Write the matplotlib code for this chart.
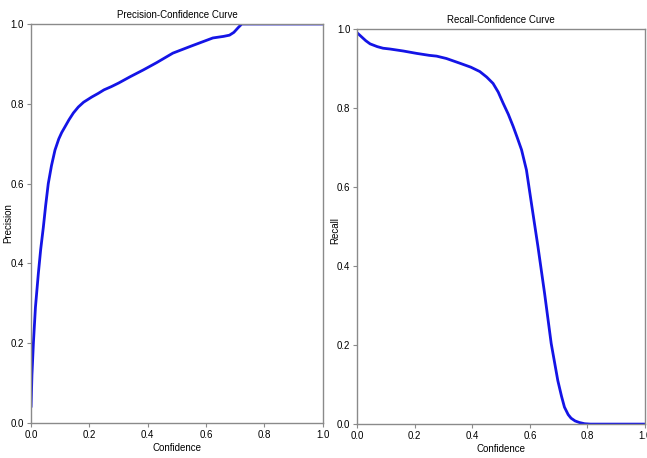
import matplotlib
matplotlib.use("Agg")
import matplotlib.pyplot as plt

prec_conf = [0.0, 0.003, 0.008, 0.015, 0.025, 0.033, 0.042, 0.05, 0.059, 0.07, 0.082,
             0.095, 0.105, 0.116, 0.13, 0.145, 0.162, 0.18, 0.208, 0.23, 0.25, 0.275,
             0.30, 0.34, 0.385, 0.43, 0.486, 0.55, 0.623, 0.66, 0.68, 0.695, 0.71,
             0.722, 0.75, 1.0]
precision = [0.04, 0.12, 0.2, 0.29, 0.375, 0.435, 0.49, 0.545, 0.60, 0.645, 0.684,
             0.712, 0.728, 0.742, 0.76, 0.777, 0.792, 0.804, 0.817, 0.826, 0.835, 0.843,
             0.852, 0.868, 0.885, 0.903, 0.927, 0.945, 0.965, 0.969, 0.972, 0.979, 0.991,
             1.0, 1.0, 1.0]

rec_conf = [0.0, 0.015, 0.03, 0.045, 0.07, 0.09, 0.114, 0.16, 0.206, 0.25, 0.276, 0.31,
            0.357, 0.395, 0.426, 0.45, 0.472, 0.49, 0.507, 0.525, 0.542, 0.556,
            0.571, 0.588, 0.605, 0.628, 0.651, 0.674, 0.697, 0.71, 0.72, 0.733, 0.743,
            0.757, 0.772, 0.79, 0.81, 1.0]
recall = [0.99, 0.98, 0.97, 0.962, 0.955, 0.951, 0.949, 0.944, 0.938, 0.933, 0.931, 0.925,
          0.913, 0.903, 0.892, 0.878, 0.862, 0.84, 0.812, 0.784, 0.753, 0.725,
          0.694, 0.643, 0.56, 0.449, 0.331, 0.204, 0.11, 0.07, 0.043, 0.024, 0.015,
          0.008, 0.004, 0.001, 0.0, 0.0]

plt.rcParams['font.family'] = ['Liberation Sans', 'DejaVu Sans']

fig = plt.figure(figsize=(6.47, 4.58), dpi=100)
ax1 = fig.add_axes([0.048, 0.0764, 0.451, 0.8712])
ax2 = fig.add_axes([0.552, 0.074, 0.445, 0.863])

line_color = '#1414e6'
spine_color = '#8a8a8a'

for ax, x, y, title, ylab in [
    (ax1, prec_conf, precision, 'Precision-Confidence Curve', 'Precision'),
    (ax2, rec_conf, recall, 'Recall-Confidence Curve', 'Recall'),
]:
    ax.plot(x, y, color=line_color, linewidth=2.0, solid_capstyle='round',
            solid_joinstyle='round')
    ax.set_xlim(0, 1)
    ax.set_ylim(0, 1)
    ax.set_xticks([0, 0.2, 0.4, 0.6, 0.8, 1.0])
    ax.set_yticks([0, 0.2, 0.4, 0.6, 0.8, 1.0])
    ax.set_title(title, fontsize=7, pad=4)
    ax.set_xlabel('Confidence', fontsize=7, labelpad=2)
    ax.set_ylabel(ylab, fontsize=7)
    ax.tick_params(labelsize=7, length=3, width=0.8, color=spine_color, pad=2)
    for s in ax.spines.values():
        s.set_color(spine_color)
        s.set_linewidth(1.0)

ax1.yaxis.set_label_coords(-0.062, 0.5)
ax2.yaxis.set_label_coords(-0.06, 0.49)

fig.savefig('out.png', dpi=100)
